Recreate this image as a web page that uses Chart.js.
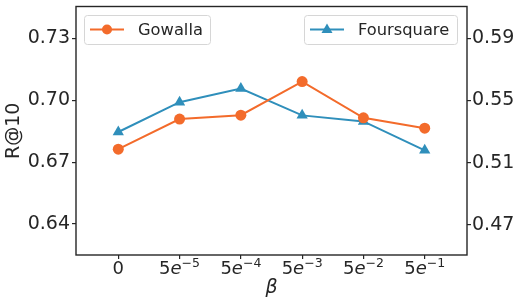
<!DOCTYPE html>
<html>
<head>
<meta charset="utf-8">
<script src="https://cdn.jsdelivr.net/npm/chart.js@4/dist/chart.umd.min.js"></script>
<style>
  html, body { margin: 0; padding: 0; background: #fff; }
  #wrap { width: 514px; height: 301px; position: relative; }
</style>
</head>
<body>
<div id="wrap"><canvas id="chart"></canvas></div>
<script>
/* ── Datos ── */
const BETA_BASE = ['0', '5e', '5e', '5e', '5e', '5e'];
const BETA_EXP  = ['',  '−5', '−4', '−3', '−2', '−1'];
const GOWALLA    = [0.6763, 0.6909, 0.6928, 0.7091, 0.6915, 0.6865];
const FOURSQUARE = [0.5297, 0.5489, 0.5577, 0.5404, 0.5365, 0.5179];
const LEFT_TICKS  = [0.64, 0.67, 0.70, 0.73];
const RIGHT_TICKS = [0.47, 0.51, 0.55, 0.59];

const ORANGE = '#f36b2b';
const BLUE   = '#2f8fbb';
const INK    = '#262626';
const FONT   = '"DejaVu Sans", sans-serif';

/* ── Marco, etiquetas del eje x y leyendas ── */
const decor = {
  id: 'decor',
  afterDraw(chart) {
    const { ctx, chartArea: a, scales } = chart;
    ctx.save();
    ctx.strokeStyle = INK;
    ctx.lineWidth = 1.4;
    ctx.strokeRect(a.left, a.top, a.right - a.left, a.bottom - a.top);

    // etiquetas 5e^-n
    const x = scales.x;
    ctx.fillStyle = INK;
    ctx.textBaseline = 'alphabetic';
    BETA_BASE.forEach((b, i) => {
      const px = x.getPixelForValue(i);
      const y = a.bottom + 19;
      if (!BETA_EXP[i]) {
        ctx.font = '18px ' + FONT;
        ctx.textAlign = 'center';
        ctx.fillText(b, px, y);
        return;
      }
      ctx.font = '18px ' + FONT;
      const w5 = ctx.measureText('5').width;
      ctx.font = 'italic 18px ' + FONT;
      const we = ctx.measureText('e').width;
      ctx.font = '12.5px ' + FONT;
      const wx = ctx.measureText(BETA_EXP[i]).width;
      let sx = px - (w5 + we + wx) / 2;
      ctx.textAlign = 'left';
      ctx.font = '18px ' + FONT;
      ctx.fillText('5', sx, y);
      ctx.font = 'italic 18px ' + FONT;
      ctx.fillText('e', sx + w5, y);
      ctx.font = '12.5px ' + FONT;
      ctx.fillText(BETA_EXP[i], sx + w5 + we, y - 7);
    });
    ctx.font = 'italic 19px ' + FONT;
    ctx.textAlign = 'center';
    ctx.fillText('β', (a.left + a.right) / 2, a.bottom + 38);

    // leyendas
    const boxes = [
      { ds: chart.data.datasets[0], x: 84,  w: 126 },
      { ds: chart.data.datasets[1], x: 304, w: 153 },
    ];
    boxes.forEach(bx => {
      const top = 15, h = 29;
      ctx.fillStyle = 'rgba(255,255,255,0.85)';
      ctx.strokeStyle = '#d6d6d6';
      ctx.lineWidth = 1;
      ctx.beginPath();
      ctx.roundRect(bx.x + 0.5, top + 0.5, bx.w, h, 3);
      ctx.fill();
      ctx.stroke();
      const cy = top + h / 2;
      ctx.strokeStyle = bx.ds.borderColor;
      ctx.lineWidth = 2;
      ctx.beginPath();
      ctx.moveTo(bx.x + 6, cy);
      ctx.lineTo(bx.x + 40, cy);
      ctx.stroke();
      ctx.fillStyle = bx.ds.borderColor;
      const mx = bx.x + 23;
      if (bx.ds.pointStyle === 'triangle') {
        ctx.beginPath();
        ctx.moveTo(mx, cy - 6);
        ctx.lineTo(mx + 5.5, cy + 3.5);
        ctx.lineTo(mx - 5.5, cy + 3.5);
        ctx.closePath();
        ctx.fill();
      } else {
        ctx.beginPath();
        ctx.arc(mx, cy, 5, 0, Math.PI * 2);
        ctx.fill();
      }
      ctx.fillStyle = INK;
      ctx.font = '16.3px ' + FONT;
      ctx.textAlign = 'left';
      ctx.textBaseline = 'middle';
      ctx.fillText(bx.ds.label, bx.x + 54, cy + 1);
      ctx.textBaseline = 'alphabetic';
    });
    ctx.restore();
  },
};

function fitY(width) {
  return s => {
    s.width = width;
    s.paddingTop = 0;
    s.paddingBottom = 0;
  };
}

/* ── Gráfico ── */
new Chart(document.getElementById('chart'), {
  type: 'line',
  data: {
    datasets: [
      {
        label: 'Gowalla',
        data: GOWALLA.map((v, i) => ({ x: i, y: v })),
        yAxisID: 'y',
        borderColor: ORANGE,
        backgroundColor: ORANGE,
        borderWidth: 2,
        pointStyle: 'circle',
        pointRadius: 5.5,
        pointBorderWidth: 0,
      },
      {
        label: 'Foursquare',
        data: FOURSQUARE.map((v, i) => ({ x: i, y: v })),
        yAxisID: 'y1',
        borderColor: BLUE,
        backgroundColor: BLUE,
        borderWidth: 2,
        pointStyle: 'triangle',
        pointRadius: 6.5,
        pointBorderWidth: 0,
      },
    ],
  },
  plugins: [decor],
  options: {
    responsive: true,
    maintainAspectRatio: false,
    animation: false,
    layout: { padding: { top: 5, left: 0, right: 0, bottom: 0 } },
    plugins: { legend: { display: false }, tooltip: { enabled: false } },
    scales: {
      x: {
        type: 'linear',
        min: -0.69,
        max: 5.69,
        afterBuildTicks: s => { s.ticks = BETA_BASE.map((_, i) => ({ value: i })); },
        afterFit: s => { s.height = 46; s.paddingLeft = 0; s.paddingRight = 0; },
        ticks: { callback: () => '', padding: 0 },
        grid: { drawOnChartArea: false, drawTicks: true, tickLength: 4, color: INK, lineWidth: 1.2 },
        border: { display: false },
      },
      y: {
        position: 'left',
        min: 0.625,
        max: 0.7455,
        afterBuildTicks: s => { s.ticks = LEFT_TICKS.map(v => ({ value: v })); },
        afterFit: fitY(76),
        ticks: {
          color: INK,
          font: { family: FONT, size: 19 },
          padding: 2,
          callback: v => v.toFixed(2),
        },
        grid: { drawOnChartArea: false, drawTicks: true, tickLength: 4, color: INK, lineWidth: 1.2 },
        border: { display: false },
        title: {
          display: true,
          text: 'R@10',
          color: INK,
          font: { family: FONT, size: 19 },
          padding: { top: 3, bottom: 0 },
        },
      },
      y1: {
        position: 'right',
        min: 0.4505,
        max: 0.6105,
        afterBuildTicks: s => { s.ticks = RIGHT_TICKS.map(v => ({ value: v })); },
        afterFit: fitY(47),
        ticks: {
          color: INK,
          font: { family: FONT, size: 19 },
          padding: 1,
          callback: v => v.toFixed(2),
        },
        grid: { drawOnChartArea: false, drawTicks: true, tickLength: 4, color: INK, lineWidth: 1.2 },
        border: { display: false },
      },
    },
  },
});
</script>
</body>
</html>
